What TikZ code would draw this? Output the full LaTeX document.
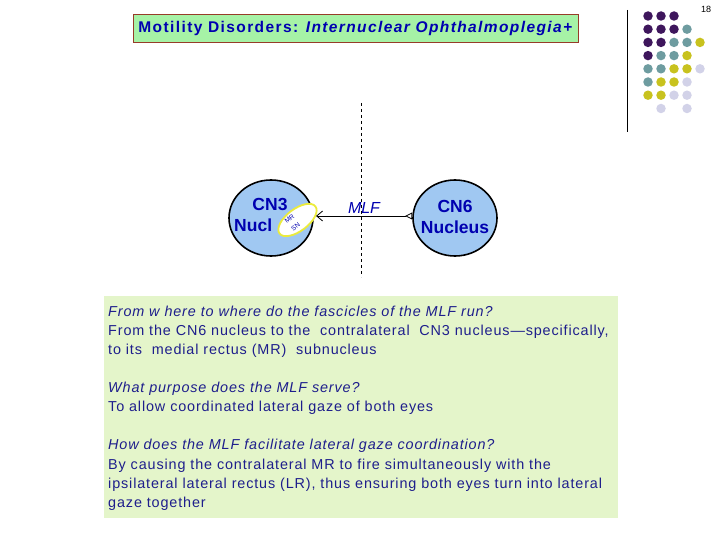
\documentclass[tikz,border=0pt]{standalone}
\usepackage{fontspec}
\setmainfont{Liberation Sans}
\newfontfamily\bodyfont{Liberation Sans}[LetterSpace=6]
\newfontfamily\titlefont{Liberation Sans}[LetterSpace=9]
\usetikzlibrary{arrows.meta,shapes.geometric}
\definecolor{titlegreen}{RGB}{166,242,166}
\definecolor{titleborder}{RGB}{150,60,40}
\definecolor{titleblue}{RGB}{0,0,176}
\definecolor{boxgreen}{RGB}{228,245,202}
\definecolor{bodyblue}{RGB}{30,30,140}
\definecolor{nucblue}{RGB}{160,200,242}
\definecolor{mryellow}{RGB}{235,235,60}
\definecolor{dotP}{RGB}{62,22,92}
\definecolor{dotT}{RGB}{110,156,160}
\definecolor{dotY}{RGB}{200,194,30}
\definecolor{dotL}{RGB}{210,210,232}
\tikzset{
  nucleus/.style={ellipse, draw=black, line width=1.6pt, fill=nucblue, inner sep=0pt},
  nuctext/.style={font=\fontsize{17.5}{21}\selectfont\bfseries, text=titleblue, align=center, inner sep=0pt},
  bodyline/.style={anchor=base west, inner sep=0pt, text=bodyblue, font=\bodyfont\fontsize{14.4}{17}\selectfont},
  bodyq/.style={bodyline, font=\bodyfont\fontsize{14.4}{17}\selectfont\itshape},
  mrtext/.style={inner sep=0pt, rotate=38, align=center, font=\fontsize{6.5}{10}\selectfont, text=titleblue},
  dot/.style={circle, inner sep=0pt, minimum size=9.5pt}
}
\begin{document}
\begin{tikzpicture}[x=1pt,y=-1pt]
\useasboundingbox (0,0) rectangle (720,540);
% page number
\node[inner sep=0pt, font=\fontsize{9}{10}\selectfont] (pagenum) at (706,9) {18};
% decoration
\draw[line width=0.8pt] (627,10) coordinate (vtop) -- (627,132) coordinate (vbot);
\foreach \r/\row in {0/{P,P,P},1/{P,P,P,T},2/{P,P,T,T,Y},3/{P,T,T,Y},4/{T,T,Y,Y,L},5/{T,Y,Y,L},6/{Y,Y,L,L}}{
  \foreach \c [count=\i from 0] in \row {
    \node[dot, fill=dot\c] (d\r\i) at (648+13*\i, 16+13.2*\r) {};
  }
}
\node[dot, fill=dotL] (d71) at (661,108.5) {};
\node[dot, fill=dotL] (d73) at (687,108.5) {};
% title
\node[draw=titleborder, line width=1pt, fill=titlegreen, minimum width=445pt, minimum height=28pt, anchor=north west, inner sep=0pt,
  text=titleblue, font=\titlefont\fontsize{15.5}{18}\selectfont\bfseries] (title) at (133,14)
  {Motility Disorders: \textit{Internuclear Ophthalmoplegia+}};
% dashed midline
\draw[dashed, line width=0.8pt] (361,103) coordinate (midtop) -- (361,277) coordinate (midbot);
% nuclei
\node[nucleus, minimum width=84pt, minimum height=76pt] (cn3) at (271,218) {};
\node[nuctext, anchor=base] (cn3a) at (270,211) {CN3};
\node[nuctext, anchor=base west] (cn3b) at (234,232) {Nucl};
\node[ellipse, draw=mryellow, line width=1.8pt, fill=white, minimum width=45pt, minimum height=22pt, rotate=37, inner sep=0pt] (mrsn) at (297.5,220) {};
\node[mrtext] (mr) at (292.5,223) {MR\\SN};
\node[nucleus, minimum width=84pt, minimum height=76pt] (cn6) at (455,218) {};
\node[nuctext] (cn6t) at (455,217) {CN6\\Nucleus};
% MLF
\node[inner sep=0pt, text=titleblue, font=\fontsize{16}{18}\selectfont\itshape] (mlf) at (364,208) {MLF};
\coordinate (tip) at (316,216);
\draw[line width=0.8pt, {Triangle[open,reversed,length=7pt,width=7pt]}-{Straight Barb[length=6pt,width=10pt]}] (cn6.west |- tip) -- (tip);
% text box
\node[fill=boxgreen, minimum width=514pt, minimum height=222pt, anchor=north west, inner sep=0pt] (box) at (104,296) {};
\node[bodyq] (l1) at (108,316) {From w here to where do the fascicles of the MLF run?};
\node[bodyline] (l2) at (108,335.2) {From the CN6 nucleus to the\ \ contralateral\ \ CN3 nucleus—specifically,};
\node[bodyline] (l3) at (108,354.4) {to its\ \ medial rectus (MR)\ \ subnucleus};
\node[bodyq] (l4) at (108,392.5) {What purpose does the MLF serve?};
\node[bodyline] (l5) at (108,411.7) {To allow coordinated lateral gaze of both eyes};
\node[bodyq] (l6) at (108,449.9) {How does the MLF facilitate lateral gaze coordination?};
\node[bodyline] (l7) at (108,469.1) {By causing the contralateral MR to fire simultaneously with the};
\node[bodyline] (l8) at (108,488.3) {ipsilateral lateral rectus (LR), thus ensuring both eyes turn into lateral};
\node[bodyline] (l9) at (108,507.5) {gaze together};
\end{tikzpicture}
\end{document}
